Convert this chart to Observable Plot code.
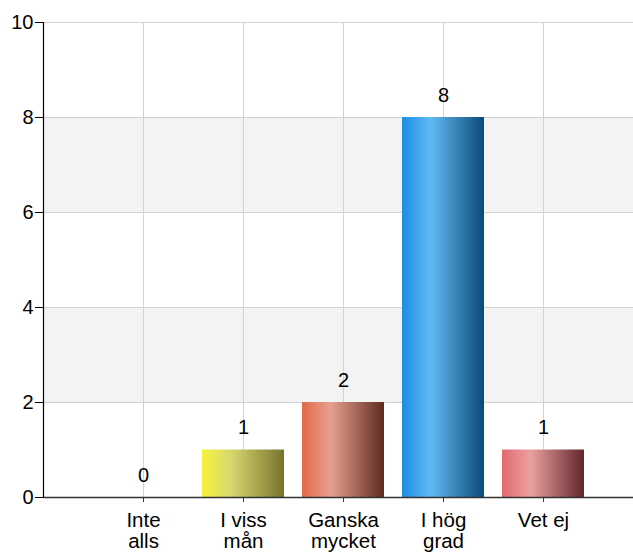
<!DOCTYPE html>
<html>
<head>
<meta charset="utf-8">
<script src="https://cdn.jsdelivr.net/npm/d3@7"></script>
<script src="https://cdn.jsdelivr.net/npm/@observablehq/plot@0.6"></script>
<style>
  html, body { margin: 0; padding: 0; background: #fff; }
  svg { display: block; }
</style>
</head>
<body>
<div id="chart"></div>
<script>
const categories = ["Inte\nalls", "I viss\nmån", "Ganska\nmycket", "I hög\ngrad", "Vet ej"];
const values = [0, 1, 2, 8, 1];
const yTicks = [0, 2, 4, 6, 8, 10];
const bandStarts = [2, 6];
const gradients = [
  ["#f0f060", "#f7f060", "#7a7a2e"],
  ["#f5f23a", "#d8d870", "#76742c"],
  ["#e06a48", "#e8a090", "#5e2a1e"],
  ["#1a8ee6", "#62b9f2", "#0a4a7a"],
  ["#e06a70", "#eba0a0", "#62262c"]
];
const gradIds = categories.map((c, i) => `url(#grad${i})`);

const data = categories.map((c, i) => ({cat: c, value: values[i]}));
const bands = bandStarts.map(s => ({y1: s, y2: s + 2}));

const font = "'Liberation Sans', Arial, sans-serif";

const plot = Plot.plot({
  width: 633,
  height: 555,
  marginLeft: 43,
  marginRight: 0,
  marginTop: 22,
  marginBottom: 58,
  style: {fontFamily: font, fontSize: "20px", color: "#000", background: "#fff"},
  x: {type: "band", domain: categories, range: [93, 593], paddingInner: 0.18, paddingOuter: 0.09, label: null, axis: null},
  y: {domain: [0, 10], label: null, axis: null},
  color: {type: "ordinal", domain: categories, range: gradIds},
  marks: [
    Plot.rectY(bands, {y1: "y1", y2: "y2", fill: "#f3f3f3"}),
    Plot.ruleY(yTicks, {stroke: "#d2d2d2", strokeWidth: 1}),
    Plot.ruleX(categories, {x: d => d, y1: 0, y2: 10, stroke: "#d2d2d2", strokeWidth: 1}),
    Plot.barY(data, {x: "cat", y: "value", fill: "cat"}),
    Plot.text(data, {x: "cat", y: "value", text: d => String(d.value), dy: -22, fontSize: 20, fill: "#000"}),
    Plot.ruleY([0], {stroke: "#333", strokeWidth: 1.5}),
    Plot.axisY(yTicks, {tickSize: 8, tickPadding: 2, fontSize: 20, stroke: "#000", fill: "#000"}),
    Plot.frame({anchor: "left", stroke: "#000", strokeWidth: 1.2}),
    Plot.axisX(categories, {tickSize: 5, tickPadding: 9, fontSize: 20.5, stroke: "#333", fill: "#000", lineHeight: 1.05})
  ]
});

// gradient definitions
const ns = "http://www.w3.org/2000/svg";
const defs = document.createElementNS(ns, "defs");
gradients.forEach((stops, i) => {
  const g = document.createElementNS(ns, "linearGradient");
  g.setAttribute("id", `grad${i}`);
  g.setAttribute("x1", "0"); g.setAttribute("x2", "1");
  g.setAttribute("y1", "0"); g.setAttribute("y2", "0");
  [[0, stops[0]], [0.35, stops[1]], [1, stops[2]]].forEach(([o, c]) => {
    const s = document.createElementNS(ns, "stop");
    s.setAttribute("offset", o);
    s.setAttribute("stop-color", c);
    g.appendChild(s);
  });
  defs.appendChild(g);
});
plot.insertBefore(defs, plot.firstChild);
document.getElementById("chart").appendChild(plot);
</script>
</body>
</html>
